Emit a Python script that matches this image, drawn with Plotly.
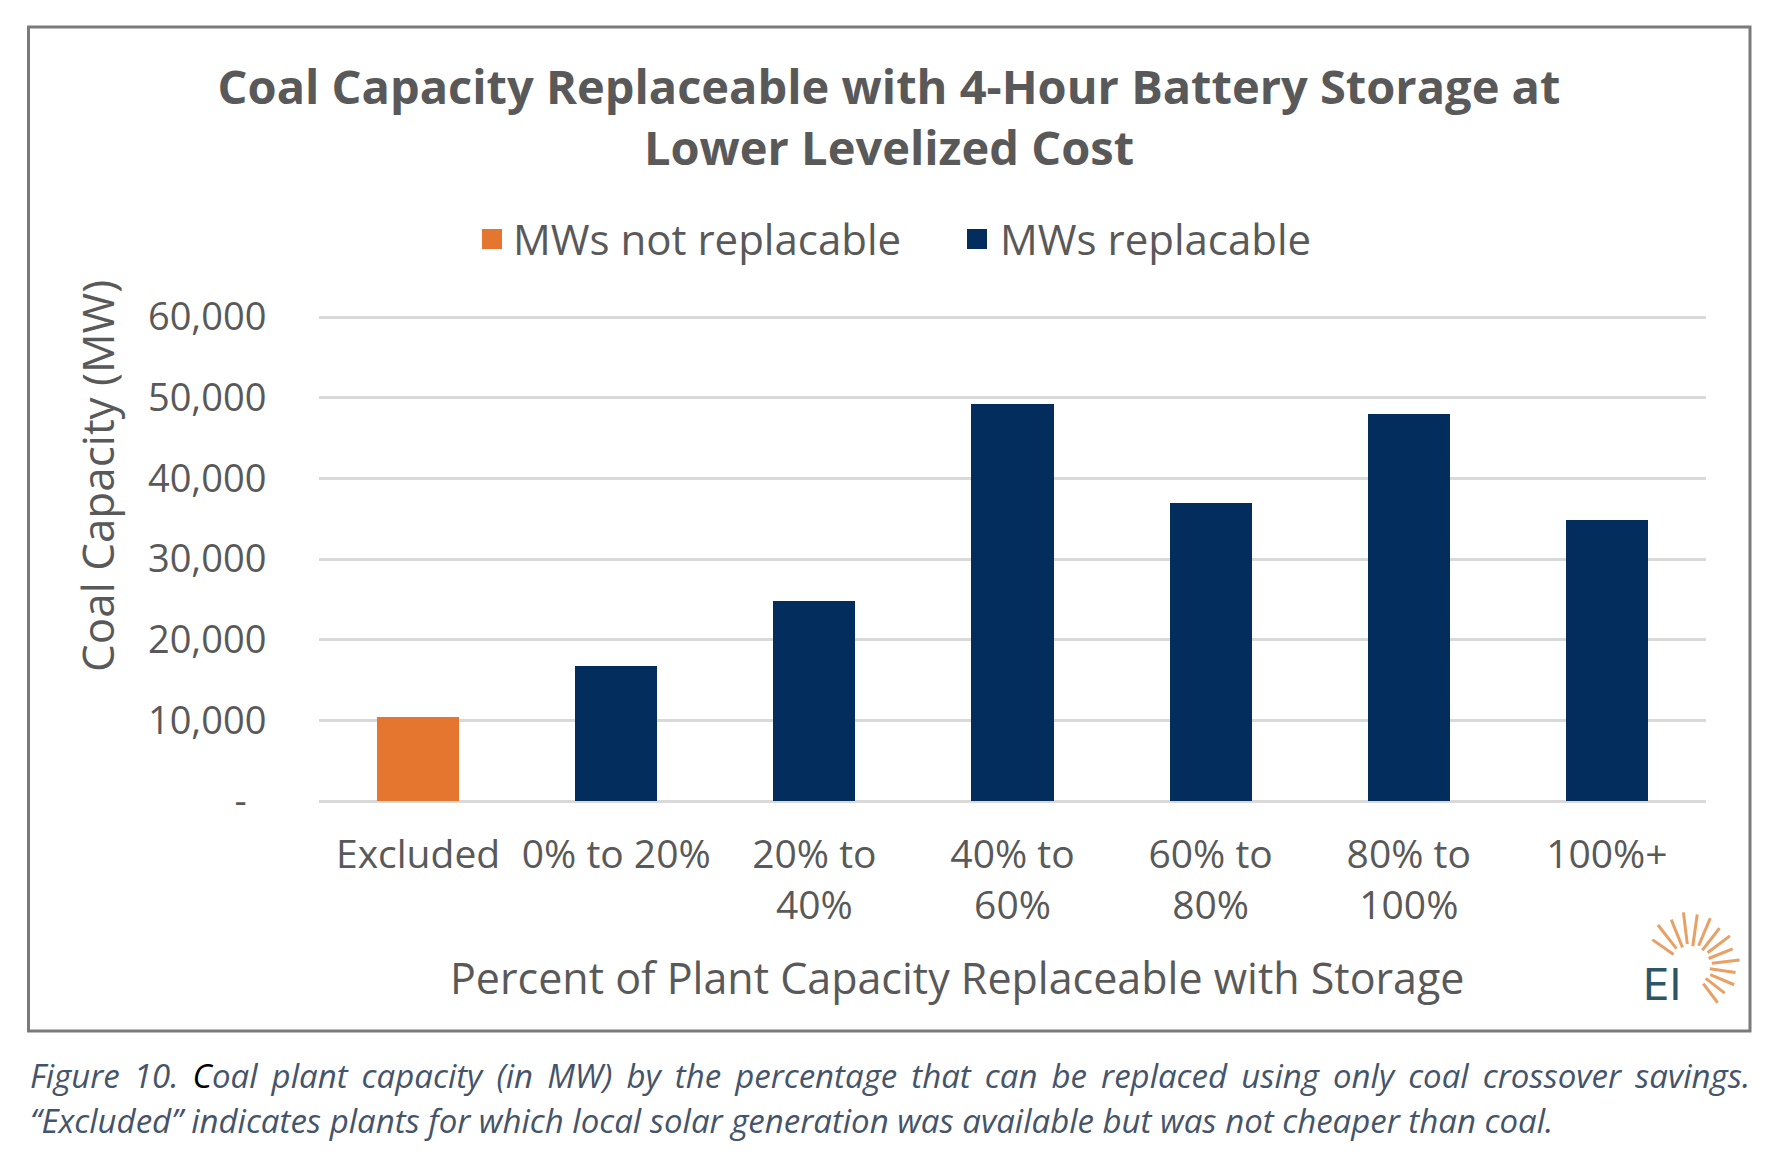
import math
import plotly.graph_objects as go

# ---- data ----
categories = ["Excluded", "0% to 20%", "20% to 40%", "40% to 60%", "60% to 80%", "80% to 100%", "100%+"]
tick_labels = ["Excluded", "0% to 20%", "20% to<br>40%", "40% to<br>60%", "60% to<br>80%", "80% to<br>100%", "100%+"]
not_replacable = [10450, None, None, None, None, None, None]
replacable = [None, 16780, 24800, 49170, 36900, 47930, 34800]
y_tickvals = [0, 10000, 20000, 30000, 40000, 50000, 60000]
y_ticktext = ["-\u00a0\u00a0", "10,000", "20,000", "30,000", "40,000", "50,000", "60,000"]
series_names = ["MWs not replacable", "MWs replacable"]
colors = ["#E5762F", "#032D5C"]

W, H = 1788, 1172
# plot area: 0 at y=801px, 60,000 at y=317px; range extended slightly so the top gridline is drawn
Y_MAX = 61000
PL, PR, PB = 319, 1706, 801
PT = round(PB - (PB - 317) * Y_MAX / 60000)

def px(x):
    return (x - PL) / (PR - PL)

def py(y):
    return (PB - y) / (PB - PT)

GRAY = "#595959"
FONT = "Open Sans"

fig = go.Figure()
fig.add_trace(go.Bar(x=categories, y=not_replacable, name=series_names[0],
                     marker=dict(color=colors[0], line=dict(width=0))))
fig.add_trace(go.Bar(x=categories, y=replacable, name=series_names[1],
                     marker=dict(color=colors[1], line=dict(width=0))))

shapes = []
annotations = []

# outer border
shapes.append(dict(type="rect", xref="paper", yref="paper",
                   x0=px(28.5), x1=px(1750), y0=py(27), y1=py(1031),
                   line=dict(color="#7a7a7a", width=3), fillcolor="rgba(0,0,0,0)", layer="below"))

# manual legend
leg_y = 239
for (sx, tx, name, col) in [(482, 511, series_names[0], colors[0]), (967, 998, series_names[1], colors[1])]:
    shapes.append(dict(type="rect", xref="paper", yref="paper",
                       x0=px(sx), x1=px(sx + 20), y0=py(leg_y - 10), y1=py(leg_y + 10),
                       fillcolor=col, line=dict(width=0)))
    annotations.append(dict(text=name, xref="paper", yref="paper", x=px(tx), y=py(leg_y),
                            xanchor="left", yanchor="middle", showarrow=False,
                            font=dict(family=FONT, size=42, color=GRAY)))

# axis titles
annotations.append(dict(text="Coal Capacity (MW)", xref="paper", yref="paper",
                        x=px(97), y=py(476), textangle=-90, showarrow=False,
                        xanchor="center", yanchor="middle",
                        font=dict(family=FONT, size=44, color=GRAY)))
annotations.append(dict(text="Percent of Plant Capacity Replaceable with Storage", xref="paper", yref="paper",
                        x=px(957), y=py(977), showarrow=False,
                        xanchor="center", yanchor="middle",
                        font=dict(family=FONT, size=43, color=GRAY)))

# logo
annotations.append(dict(text="EI", xref="paper", yref="paper", x=px(1662), y=py(984),
                        showarrow=False, xanchor="center", yanchor="middle",
                        font=dict(family="Inter", size=44, color="#2D5566")))
cx, cy = 1690, 966
for ang, r1, r2 in [(145, 20, 46), (128, 22, 52), (112, 20, 50), (97, 22, 54), (82, 20, 52),
                    (67, 22, 52), (52, 20, 48), (37, 22, 50), (22, 20, 46), (7, 22, 50),
                    (-8, 20, 46), (-23, 22, 48), (-38, 20, 44), (-53, 22, 46)]:
    a = math.radians(ang)
    shapes.append(dict(type="line", xref="paper", yref="paper",
                       x0=px(cx + r1 * math.cos(a)), y0=py(cy - r1 * math.sin(a)),
                       x1=px(cx + r2 * math.cos(a)), y1=py(cy - r2 * math.sin(a)),
                       line=dict(color="#E9A064", width=3)))

# caption (first line justified by widening word gaps)
CAP = "#44546A"
cap1 = "Figure 10. <span style='color:#000000'>C</span>oal plant capacity (in MW) by the percentage that can be replaced using only coal crossover savings."
cap1 = cap1.replace(" ", " \u2006").replace("<span \u2006style", "<span style")
annotations.append(dict(text=cap1,
                        xref="paper", yref="paper", x=px(28), y=py(1075), showarrow=False,
                        xanchor="left", yanchor="middle",
                        font=dict(family=FONT, size=33, color=CAP, style="italic")))
annotations.append(dict(text="\u201cExcluded\u201d indicates plants for which local solar generation was available but was not cheaper than coal.",
                        xref="paper", yref="paper", x=px(28), y=py(1120), showarrow=False,
                        xanchor="left", yanchor="middle",
                        font=dict(family=FONT, size=33, color=CAP, style="italic")))

fig.update_layout(
    width=W, height=H,
    margin=dict(l=PL, r=W - PR, t=PT, b=H - PB, pad=0),
    paper_bgcolor="white", plot_bgcolor="white",
    barmode="stack", bargap=0.585,
    showlegend=False,
    title=dict(text="Coal Capacity Replaceable with 4-Hour Battery Storage at<br>Lower Levelized Cost",
               x=889 / W, xref="container", xanchor="center",
               y=1 - 104 / H, yref="container", yanchor="middle",
               font=dict(family=FONT, size=47, color=GRAY, weight="bold")),
    xaxis=dict(type="category", tickvals=categories, ticktext=tick_labels,
               showgrid=False, showline=False, zeroline=False,
               ticks="outside", ticklen=19, tickcolor="rgba(0,0,0,0)",
               tickfont=dict(family=FONT, size=39, color=GRAY)),
    yaxis=dict(range=[0, Y_MAX], tickvals=y_tickvals, ticktext=y_ticktext,
               showgrid=True, gridcolor="#D9D9D9", gridwidth=3,
               zeroline=True, zerolinecolor="#D9D9D9", zerolinewidth=3,
               showline=False, ticks="outside", ticklen=44, tickcolor="rgba(0,0,0,0)",
               tickfont=dict(family=FONT, size=38, color=GRAY)),
    shapes=shapes, annotations=annotations,
)

fig.write_html("out.html")
